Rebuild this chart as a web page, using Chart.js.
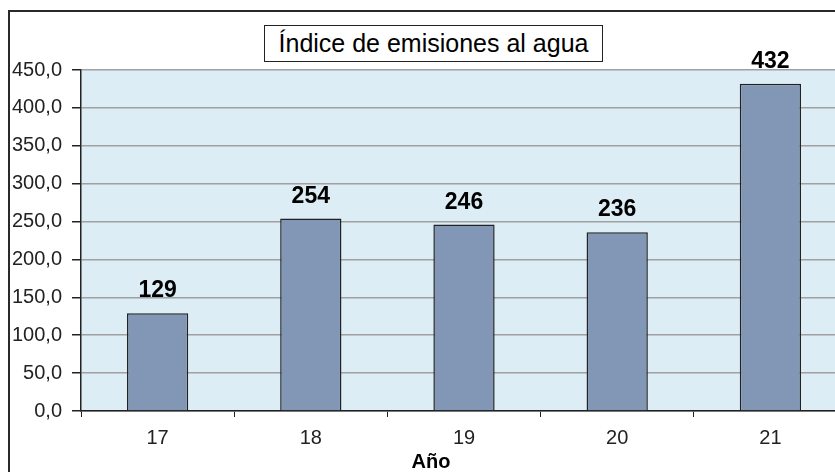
<!DOCTYPE html>
<html>
<head>
<meta charset="utf-8">
<script src="https://cdn.jsdelivr.net/npm/chart.js@4.4.0/dist/chart.umd.min.js"></script>
<style>
  html, body { margin: 0; padding: 0; overflow: hidden; background: #fff; }
  body { width: 835px; height: 472px; position: relative; }
  #frame { position: absolute; left: 8px; top: 10px; width: 900px; height: 500px;
           border-left: 2px solid #2a2a2a; border-top: 2px solid #2a2a2a; }
  #chart { position: absolute; left: 0; top: 0; }
  #title { position: absolute; left: 264px; top: 25px; width: 337px; height: 35px;
           border: 1.5px solid #222; background: #fff; box-sizing: content-box;
           font: 25px "Liberation Sans", Arial, sans-serif; line-height: 35px;
           text-align: center; color: #000; white-space: nowrap; }
  #xtitle { position: absolute; left: 391px; top: 451px; width: 80px; text-align: center;
            font: bold 20px "Liberation Sans", Arial, sans-serif; line-height: 20px; color: #000; }
</style>
</head>
<body>
<div id="frame"></div>
<canvas id="chart" width="900" height="480"></canvas>
<div id="title">Índice de emisiones al agua</div>
<div id="xtitle">Año</div>
<script>
const years = ['17', '18', '19', '20', '21'];
const emissionIndex = [129, 254, 246, 236, 432];
const yTickLabels = ['0,0', '50,0', '100,0', '150,0', '200,0', '250,0', '300,0', '350,0', '400,0', '450,0'];

Chart.defaults.font.family = '"Liberation Sans", Arial, sans-serif';
Chart.defaults.color = '#222';

// light blue plot background
const plotBackground = {
    id: 'plotBackground',
    beforeDraw(chart) {
        const ctx = chart.ctx;
        const a = chart.chartArea;
        ctx.save();
        ctx.fillStyle = '#ddedf5';
        ctx.fillRect(a.left, a.top, a.right - a.left, a.bottom - a.top);
        ctx.restore();
    }
};

// value above each bar
const valueLabels = {
    id: 'valueLabels',
    afterDatasetsDraw(chart) {
        const ctx = chart.ctx;
        const meta = chart.getDatasetMeta(0);
        ctx.save();
        ctx.font = 'bold 23px "Liberation Sans", Arial, sans-serif';
        ctx.fillStyle = '#000';
        ctx.textAlign = 'center';
        ctx.textBaseline = 'alphabetic';
        meta.data.forEach(function (bar, i) {
            ctx.fillText(String(emissionIndex[i]), bar.x, bar.y - 16);
        });
        ctx.restore();
    }
};

const ctx = document.getElementById('chart').getContext('2d');
const myChart = new Chart(ctx, {
    type: 'bar',
    data: {
        labels: years,
        datasets: [{
            data: emissionIndex,
            backgroundColor: '#8296b6',
            borderColor: '#222',
            borderWidth: 1.5,
            barPercentage: 0.4,
            categoryPercentage: 1.0
        }]
    },
    options: {
        responsive: false,
        animation: false,
        layout: { padding: { left: 0, top: 70, right: 53, bottom: 0 } },
        plugins: {
            legend: { display: false },
            title: { display: false },
            tooltip: { enabled: false }
        },
        scales: {
            x: {
                grid: { display: true, drawOnChartArea: false, drawTicks: true, tickLength: 6,
                        tickColor: '#222', offset: true },
                border: { color: '#222', width: 1.5 },
                ticks: { font: { size: 20 }, color: '#222', padding: 9 },
                afterFit: function (scale) { scale.height = 69; }
            },
            y: {
                min: 0,
                max: 450,
                ticks: {
                    stepSize: 50,
                    font: { size: 20 },
                    color: '#222',
                    padding: 10,
                    callback: function (value, index) { return yTickLabels[index]; }
                },
                grid: { color: '#a0a0a0', lineWidth: 1.5, tickColor: '#222', tickLength: 9 },
                border: { color: '#222', width: 1.5 },
                afterFit: function (scale) { scale.width = 81; }
            }
        }
    },
    plugins: [plotBackground, valueLabels]
});
</script>
</body>
</html>
